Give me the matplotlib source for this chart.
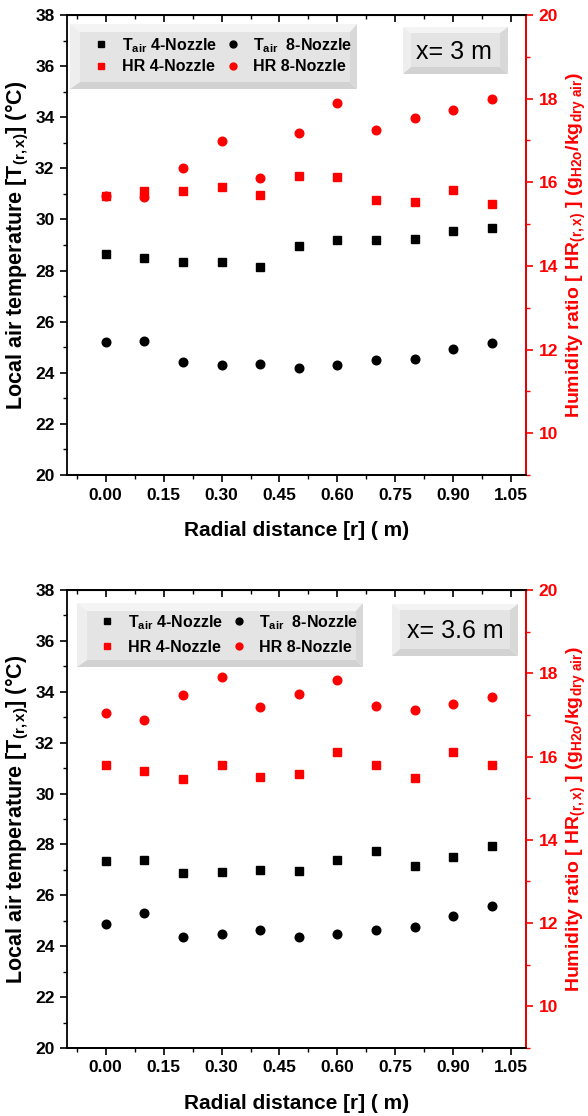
import matplotlib
matplotlib.use("Agg")
import matplotlib.pyplot as plt
from matplotlib.patches import Polygon
from matplotlib.ticker import MultipleLocator, FormatStrFormatter

plt.rcParams['font.family'] = ['Liberation Sans', 'DejaVu Sans']
plt.rcParams['font.weight'] = 'bold'
plt.rcParams['mathtext.fontset'] = 'custom'
plt.rcParams['mathtext.rm'] = 'Liberation Sans:bold'
plt.rcParams['mathtext.bf'] = 'Liberation Sans:bold'
plt.rcParams['mathtext.it'] = 'Liberation Sans:bold'
plt.rcParams['mathtext.default'] = 'bf'

# ---------------- data ----------------
r = [0.0, 0.1, 0.2, 0.3, 0.4, 0.5, 0.6, 0.7, 0.8, 0.9, 1.0]

# x = 3 m
t4_3 = [28.65, 28.49, 28.34, 28.34, 28.14, 28.96, 29.20, 29.20, 29.24, 29.55, 29.67]
t8_3 = [25.19, 25.24, 24.44, 24.32, 24.35, 24.20, 24.32, 24.49, 24.55, 24.94, 25.18]
hr4_3 = [15.67, 15.80, 15.79, 15.88, 15.69, 16.14, 16.12, 15.57, 15.54, 15.81, 15.47]
hr8_3 = [15.67, 15.64, 16.33, 16.99, 16.11, 17.18, 17.90, 17.25, 17.54, 17.73, 17.99]

# x = 3.6 m
t4_36 = [27.35, 27.39, 26.88, 26.92, 27.00, 26.96, 27.39, 27.74, 27.15, 27.50, 27.94]
t8_36 = [24.87, 25.30, 24.36, 24.48, 24.64, 24.36, 24.48, 24.64, 24.75, 25.19, 25.58]
hr4_36 = [15.80, 15.66, 15.47, 15.80, 15.52, 15.59, 16.12, 15.80, 15.49, 16.12, 15.80]
hr8_36 = [17.04, 16.88, 17.47, 17.90, 17.19, 17.51, 17.85, 17.22, 17.11, 17.27, 17.44]

panel_labels = ["x= 3 m", "x= 3.6 m"]
leg_labels = ["T$_{air}$ 4-Nozzle", "HR 4-Nozzle", "T$_{air}$  8-Nozzle", "HR 8-Nozzle"]
x_ticks = [0.00, 0.15, 0.30, 0.45, 0.60, 0.75, 0.90, 1.05]

fig = plt.figure(figsize=(5.88, 11.16), dpi=100)
W, H = 588, 1116


def bevel_box(ax, x0, y0, x1, y1, dl, dt, dr, db):
    """pixel coords (figure, y downwards) -> bevelled grey box in figure coords."""
    def f(px, py):
        return (px / W, 1 - py / H)
    ix0, iy0, ix1, iy1 = x0 + dl, y0 + dt, x1 - dr, y1 - db
    polys = [
        ([f(x0, y0), f(x1, y0), f(ix1, iy0), f(ix0, iy0)], '#f4f4f4'),  # top
        ([f(x0, y0), f(ix0, iy0), f(ix0, iy1), f(x0, y1)], '#eeeeee'),  # left
        ([f(x0, y1), f(ix0, iy1), f(ix1, iy1), f(x1, y1)], '#d2d2d2'),  # bottom
        ([f(x1, y0), f(x1, y1), f(ix1, iy1), f(ix1, iy0)], '#d8d8d8'),  # right
        ([f(ix0, iy0), f(ix1, iy0), f(ix1, iy1), f(ix0, iy1)], '#e4e4e4'),
    ]
    for pts, c in polys:
        p = Polygon(pts, closed=True, facecolor=c, edgecolor='none',
                    transform=fig.transFigure, zorder=5)
        ax.add_artist(p)


def make_panel(rect, t4, t8, hr4, hr8, label, leg_box, lab_box, lab_xy, leg_anchor,
               labspace):
    ax = fig.add_axes(rect)
    ax2 = ax.twinx()
    ax.set_xlim(-0.1, 1.088)
    ax.set_ylim(20, 38)
    ax2.set_ylim(9, 20)

    h1, = ax.plot(r, t4, 's', color='black', ms=5.8, ls='none')
    h3, = ax.plot(r, t8, 'o', color='black', ms=6.2, ls='none')
    h2, = ax2.plot(r, hr4, 's', color='red', ms=5.8, ls='none')
    h4, = ax2.plot(r, hr8, 'o', color='red', ms=6.2, ls='none')

    ax.set_xticks(x_ticks)
    ax.xaxis.set_major_formatter(FormatStrFormatter('%.2f'))
    ax.xaxis.set_minor_locator(MultipleLocator(0.075))
    ax.yaxis.set_major_locator(MultipleLocator(2))
    ax.yaxis.set_minor_locator(MultipleLocator(1))
    ax2.yaxis.set_major_locator(MultipleLocator(2))
    ax2.yaxis.set_minor_locator(MultipleLocator(1))
    ax2.set_yticks([10, 12, 14, 16, 18, 20])

    ax.tick_params(which='major', direction='out', length=5, width=1.2,
                   labelsize=12.5, colors='black', pad=4)
    ax.tick_params(which='minor', direction='out', length=3, width=1)
    ax2.tick_params(which='major', direction='out', length=5, width=1.2,
                    labelsize=12.5, colors='red', pad=4)
    ax2.tick_params(which='minor', direction='out', length=3, width=1, colors='red')

    sec = ax.secondary_xaxis('top')
    sec.set_xticks(x_ticks)
    sec.xaxis.set_minor_locator(MultipleLocator(0.075))
    sec.tick_params(which='major', direction='in', length=5, width=1.2, labeltop=False)
    sec.tick_params(which='minor', direction='in', length=3, width=1)

    for s in ax.spines.values():
        s.set_linewidth(1.3)
    for s in ax2.spines.values():
        s.set_linewidth(1.3)
    ax2.spines['right'].set_color('red')
    ax2.spines['left'].set_visible(False)

    ax.set_xlabel("Radial distance [r] ( m)", fontsize=15, fontweight='bold', labelpad=13)
    ax.set_ylabel("Local air temperature [T$_{(r,x)}$] (\u00b0C)", fontsize=15.5,
                  fontweight='bold', labelpad=3)
    ax2.set_ylabel("Humidity ratio [ HR$_{(r,x)}$ ] (g$_{H2o}$/kg$_{dry\\ air}$)",
                   fontsize=14, fontweight='bold', color='red', labelpad=5)

    bevel_box(ax2, *leg_box)
    bevel_box(ax2, *lab_box)
    ax2.text(lab_xy[0] / W, 1 - lab_xy[1] / H, label, transform=fig.transFigure,
             fontsize=18, fontweight='normal', ha='center', va='center', zorder=7)

    leg = ax2.legend([h1, h2, h3, h4], leg_labels, ncol=2, frameon=False,
                     loc='upper left',
                     bbox_to_anchor=(leg_anchor[0] / W, 1 - leg_anchor[1] / H),
                     bbox_transform=fig.transFigure, borderpad=0, borderaxespad=0,
                     handlelength=1.0, handletextpad=0.8, columnspacing=0.5,
                     labelspacing=labspace, markerscale=0.8,
                     prop={'size': 11.5, 'weight': 'bold'})
    leg.set_zorder(8)
    return ax, ax2


# top panel: axes 67-526 x, 15-475 y
make_panel([67 / W, 1 - 475 / H, 459 / W, 460 / H], t4_3, t8_3, hr4_3, hr8_3,
           panel_labels[0],
           (70, 24, 357, 89, 10, 8, 7, 7),
           (403, 27, 508, 74, 8, 6, 8, 7),
           (454, 52),
           (93, 36), 0.3)

# bottom panel: axes 67-526 x, 590-1048 y
make_panel([67 / W, 1 - 1048 / H, 459 / W, 458 / H], t4_36, t8_36, hr4_36, hr8_36,
           panel_labels[1],
           (77, 603, 363, 667, 10, 8, 7, 7),
           (392, 604, 518, 656, 8, 6, 8, 7),
           (455, 631),
           (99, 613), 0.5)

fig.savefig("out.png", dpi=100)
